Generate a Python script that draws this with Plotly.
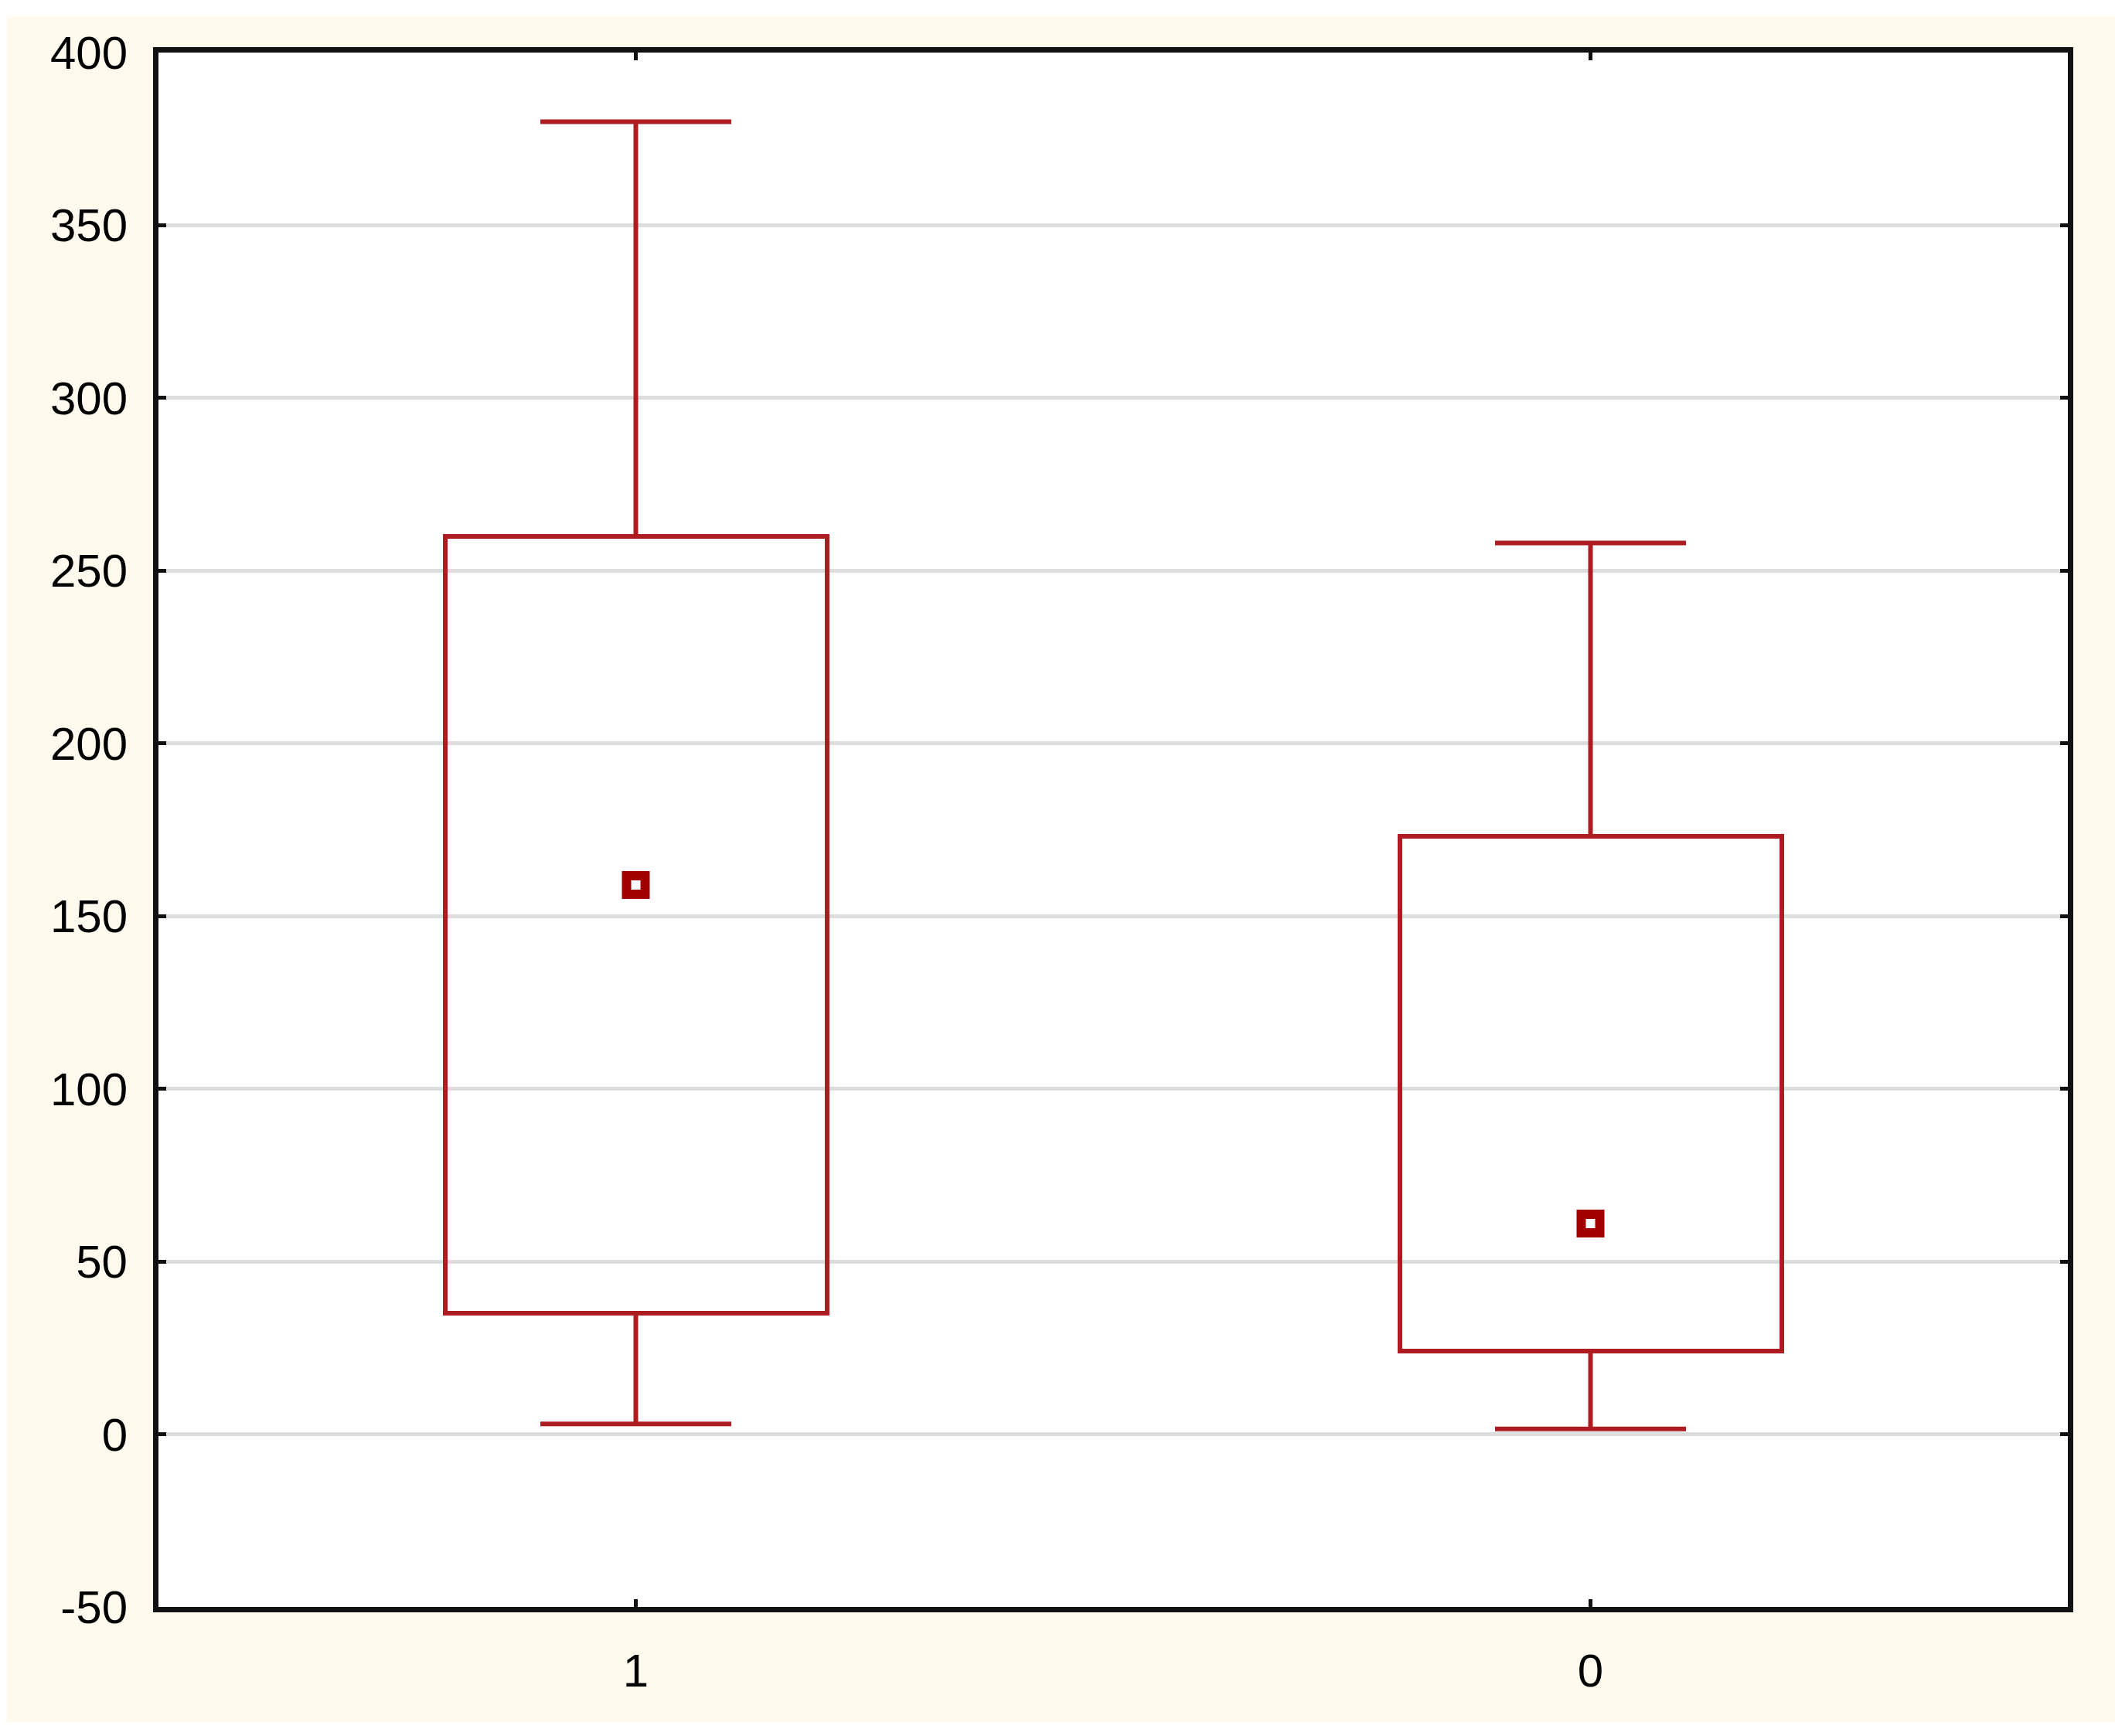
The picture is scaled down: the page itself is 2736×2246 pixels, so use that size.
import plotly.graph_objects as go

# ---- data ----
categories = ["1", "0"]
minimum = [3, 1.5]
q1 = [35, 24]
median = [159, 61]
q3 = [260, 173]
maximum = [380, 258]
y_ticks = [-50, 0, 50, 100, 150, 200, 250, 300, 350, 400]

# ---- style ----
BOX_COLOR = "#AE1C22"
MARK_COLOR = "#A30000"
CREAM = "#FFF9EE"
BOX_W = 0.4
CAP_HALF = 0.1
W, H = 2736, 2246
L, R, T, B = 205, 61, 68, 167
FONT = dict(family="Liberation Sans, Arial", size=60, color="black")

xpos = list(range(len(categories)))

fig = go.Figure()

# boxes (25%-75%)
fig.add_trace(go.Bar(
    x=xpos, base=q1, y=[b - a for a, b in zip(q1, q3)], width=BOX_W,
    marker=dict(color="rgba(0,0,0,0)", line=dict(color=BOX_COLOR, width=6)),
    showlegend=False, hoverinfo="skip"))

# whiskers (min-max) with caps
wx, wy = [], []
for i, x in enumerate(xpos):
    wx += [x, x, None, x, x, None,
           x - CAP_HALF, x + CAP_HALF, None, x - CAP_HALF, x + CAP_HALF, None]
    wy += [q3[i], maximum[i], None, q1[i], minimum[i], None,
           maximum[i], maximum[i], None, minimum[i], minimum[i], None]
fig.add_trace(go.Scatter(x=wx, y=wy, mode="lines",
                         line=dict(color=BOX_COLOR, width=6),
                         showlegend=False, hoverinfo="skip"))

# median point
fig.add_trace(go.Scatter(x=xpos, y=median, mode="markers",
                         marker=dict(symbol="square-open", size=24, color=MARK_COLOR,
                                     line=dict(color=MARK_COLOR, width=12)),
                         showlegend=False))

axis_common = dict(showline=True, linecolor="#111111", linewidth=7, mirror="ticks",
                   ticks="inside", ticklen=10, tickwidth=5, tickcolor="#111111",
                   tickfont=FONT, zeroline=False)

fig.update_xaxes(range=[-0.5, len(categories) - 0.5], tickvals=xpos, ticktext=categories,
                 showgrid=False, ticklabelstandoff=24, **axis_common)
fig.update_yaxes(range=[-50, 400], tickvals=y_ticks, ticktext=[str(v) for v in y_ticks],
                 showgrid=True, gridcolor="#DDDDDD", gridwidth=5,
                 ticklabelstandoff=21, **axis_common)

# thin white frame around cream background
pw = W - L - R
ph = H - T - B
def px_x(p):
    return (p - L) / pw
def px_y(p):
    return 1 - (p - T) / ph
shapes = [
    dict(type="rect", xref="paper", yref="paper", x0=px_x(0), x1=px_x(9), y0=px_y(H), y1=px_y(0),
         fillcolor="white", line=dict(width=0), layer="below"),
    dict(type="rect", xref="paper", yref="paper", x0=px_x(0), x1=px_x(W), y0=px_y(21), y1=px_y(0),
         fillcolor="white", line=dict(width=0), layer="below"),
    dict(type="rect", xref="paper", yref="paper", x0=px_x(0), x1=px_x(W), y0=px_y(H), y1=px_y(2228),
         fillcolor="white", line=dict(width=0), layer="below"),
]

fig.update_layout(width=W, height=H, margin=dict(l=L, r=R, t=T, b=B),
                  paper_bgcolor=CREAM, plot_bgcolor="white",
                  shapes=shapes, showlegend=False, bargap=0)

fig.write_html("out.html", config={"displayModeBar": False},
               post_script="document.body.style.margin='0';document.body.style.overflow='hidden';")
